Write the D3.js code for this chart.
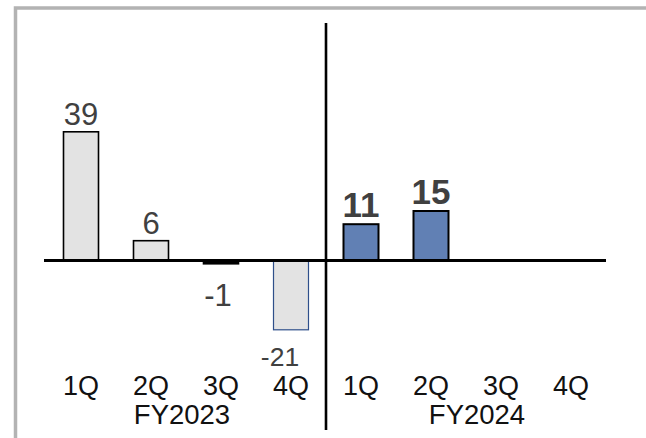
<!DOCTYPE html>
<html>
<head>
<meta charset="utf-8">
<script src="https://cdn.jsdelivr.net/npm/d3@7"></script>
<style>
  html, body { margin: 0; padding: 0; background: #fff; }
  svg { display: block; }
  text { font-family: "Liberation Sans", Arial, sans-serif; }
</style>
</head>
<body>
<svg id="chart" width="646" height="438"></svg>
<script>
// Quarterly results, two fiscal years
const fiscalYears = ["FY2023", "FY2024"];
const quarters = ["1Q", "2Q", "3Q", "4Q"];
const fy2023Values = [39, 6, -1, -21];
const fy2024Values = [11, 15, null, null];

const W = 646, H = 438;
const svg = d3.select("#chart");

// outer frame (open toward right and bottom)
svg.append("path")
  .attr("d", `M15.5,${H} L15.5,8 L${W},8`)
  .attr("fill", "none")
  .attr("stroke", "#b3b3b3")
  .attr("stroke-width", 3.5);

const rows = [];
fiscalYears.forEach((fy, fi) => {
  const vals = fi === 0 ? fy2023Values : fy2024Values;
  quarters.forEach((q, qi) => rows.push({ key: fy + q, fy, fi, q, value: vals[qi] }));
});

const x = d3.scaleBand()
  .domain(rows.map(d => d.key))
  .range([46, 606])
  .paddingInner(0.5)
  .paddingOuter(0.25);

const y = d3.scaleLinear()
  .domain([-40, 50])
  .range([260.5 + 40 * 3.3, 260.5 - 50 * 3.3]);

const bars = rows.filter(d => d.value !== null);

// bars
svg.append("g").selectAll("rect")
  .data(bars)
  .join("rect")
  .attr("x", d => x(d.key))
  .attr("width", x.bandwidth())
  .attr("y", d => y(Math.max(0, d.value)))
  .attr("height", d => Math.abs(y(d.value) - y(0)))
  .attr("fill", d => d.fi === 1 ? "#6180b4" : (Math.abs(d.value) < 2 ? "#000" : "#e3e3e3"))
  .attr("stroke", d => d.fi === 1 ? "#000" : (d.value < -5 ? "#2f4f8a" : "#000"))
  .attr("stroke-width", d => d.fi === 1 ? 2 : (d.value < -5 ? 1.2 : 1.6));

// zero baseline
svg.append("line")
  .attr("x1", x.range()[0] - 2).attr("x2", x.range()[1])
  .attr("y1", y(0)).attr("y2", y(0))
  .attr("stroke", "#000").attr("stroke-width", 3);

// divider between fiscal years
const divX = (x("FY2023" + "4Q") + x.bandwidth() + x("FY2024" + "1Q")) / 2;
svg.append("line")
  .attr("x1", divX).attr("x2", divX)
  .attr("y1", 23).attr("y2", 430)
  .attr("stroke", "#000").attr("stroke-width", 2.6);

// value labels
svg.append("g").selectAll("text")
  .data(bars)
  .join("text")
  .attr("x", d => x(d.key) + x.bandwidth() / 2 + (d.value < -5 ? -11 : (d.value < 0 ? -3 : 0)))
  .attr("y", d => d.value >= 0 ? y(d.value) - 7 : y(d.value) + (d.value < -5 ? 36 : 42))
  .attr("text-anchor", "middle")
  .attr("fill", "#404040")
  .attr("font-size", d => d.fi === 1 ? 35 : (d.value < -5 ? 26.5 : 31))
  .attr("font-weight", d => d.fi === 1 ? "bold" : "normal")
  .text(d => String(d.value));

// quarter labels
svg.append("g").selectAll("text")
  .data(rows)
  .join("text")
  .attr("x", d => x(d.key) + x.bandwidth() / 2)
  .attr("y", 395)
  .attr("text-anchor", "middle")
  .attr("fill", "#111")
  .attr("font-size", 27)
  .text(d => d.q);

// fiscal year labels
const fyShift = [-4, 11];
svg.append("g").selectAll("text")
  .data(fiscalYears)
  .join("text")
  .attr("x", (fy, i) => {
    const first = x(fy + quarters[0]);
    const last = x(fy + quarters[quarters.length - 1]) + x.bandwidth();
    return (first + last) / 2 + fyShift[i];
  })
  .attr("y", 424)
  .attr("text-anchor", "middle")
  .attr("fill", "#111")
  .attr("font-size", 27.5)
  .text(d => d);
</script>
</body>
</html>
